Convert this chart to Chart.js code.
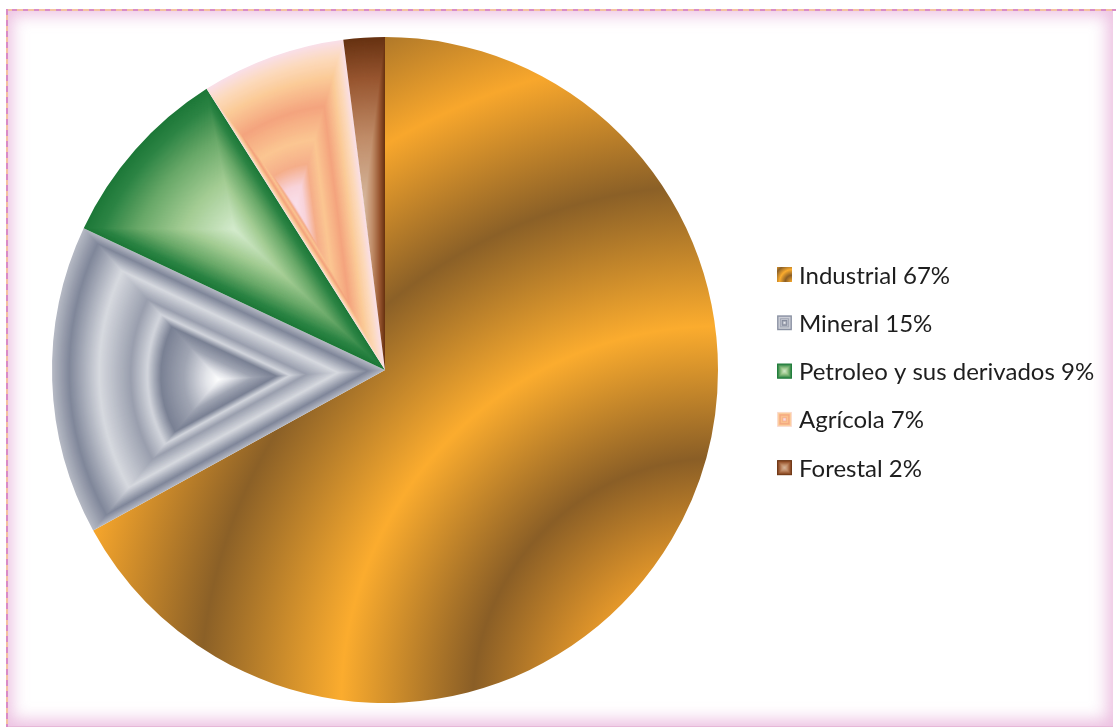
<!DOCTYPE html>
<html>
<head>
<meta charset="utf-8">
<script src="https://cdn.jsdelivr.net/npm/chart.js@4/dist/chart.umd.min.js"></script>
<style>
    html, body { margin: 0; padding: 0; background: #ffffff; }
    #wrap { position: relative; width: 1116px; height: 727px; overflow: hidden; }
    /* marco rosado con borde discontinuo */
    #frame {
        position: absolute; left: 6px; top: 9px; width: 1107px; height: 717px;
        box-shadow: inset 0 0 16px 6px rgba(228, 165, 212, 0.7);
        border-bottom: 1px solid #e6b8d8;
    }
    #dash-top, #dash-left { position: absolute; }
    #dash-top {
        left: 6px; top: 9px; width: 1110px; height: 2px;
        background: repeating-linear-gradient(90deg, #f4c2a0 0 6px, #d98cc6 6px 11px);
    }
    #dash-left {
        left: 6px; top: 9px; width: 2px; height: 718px;
        background: repeating-linear-gradient(180deg, #d98cc6 0 6px, #f4c2a0 6px 11px);
    }
    #chart { position: absolute; left: 0; top: 0; }
</style>
</head>
<body>
<div id="wrap">
    <div id="frame"></div>
    <div id="dash-top"></div>
    <div id="dash-left"></div>
    <canvas id="chart" width="1116" height="727"></canvas>
</div>
<script>
// datos del grafico
const labels = ['Industrial', 'Mineral', 'Petroleo y sus derivados', 'Agrícola', 'Forestal'];
const values = [67, 15, 9, 7, 2];

// degradados (s = 0 centro, s = 1 borde)
const mineralStops = [[0, '#ffffff'], [0.08, '#e2e4e9'], [0.21, '#a0a5b3'], [0.35, '#7a8194'], [0.43, '#d2d5dc'],
    [0.53, '#9a9fae'], [0.72, '#d6d9df'], [0.9, '#80879a'], [1, '#b4b8c3']];
const petroleoStops = [[0, '#d4ebcd'], [0.35, '#a3cc93'], [0.65, '#68a868'], [0.88, '#2c8444'], [1, '#1d7838']];
const agricolaStops = [[0, '#fae0eb'], [0.12, '#f8d3da'], [0.25, '#f5ae8a'], [0.4, '#fbc692'], [0.6, '#f4a47e'],
    [0.78, '#fbcb98'], [0.9, '#fcdabd'], [1, '#f9dfe8']];
const forestalStops = [[0, '#d6b89e'], [0.4, '#c08c68'], [0.75, '#985630'], [1, '#673212']];
const sliceStops = [null, mineralStops, petroleoStops, agricolaStops, forestalStops];

// bandas del sector industrial (radial desde la esquina inferior derecha)
const industrialStops = [[0, '#fbab2d'], [0.12, '#f9a52b'], [0.26, '#8a5e26'], [0.4, '#fbac2e'], [0.55, '#8b6027'],
    [0.69, '#f8a72c'], [0.84, '#8d6227'], [1, '#f0a02c']];

let fills = [];

function hexToRgb(h) {
    return [parseInt(h.slice(1, 3), 16), parseInt(h.slice(3, 5), 16), parseInt(h.slice(5, 7), 16)];
}

function colorAt(stops, s) {
    for (let i = 1; i < stops.length; i++) {
        if (s <= stops[i][0]) {
            const a = stops[i - 1], b = stops[i];
            const t = (s - a[0]) / (b[0] - a[0] || 1);
            const ca = hexToRgb(a[1]), cb = hexToRgb(b[1]);
            const c = ca.map((v, k) => Math.round(v + (cb[k] - v) * t));
            return `rgb(${c[0]},${c[1]},${c[2]})`;
        }
    }
    return stops[stops.length - 1][1];
}

// bounding box de un sector
function wedgeBox(cx, cy, r, a0, a1) {
    const xs = [cx, cx + r * Math.cos(a0), cx + r * Math.cos(a1)];
    const ys = [cy, cy + r * Math.sin(a0), cy + r * Math.sin(a1)];
    for (let k = -4; k <= 8; k++) {
        const a = k * Math.PI / 2;
        if (a > a0 && a < a1) {
            xs.push(cx + r * Math.cos(a));
            ys.push(cy + r * Math.sin(a));
        }
    }
    return { x0: Math.min(...xs), x1: Math.max(...xs), y0: Math.min(...ys), y1: Math.max(...ys) };
}

// relleno tipo "ruta" que sigue la forma del sector
function pathFill(mainCtx, w, h, cx, cy, r, a0, a1, stops) {
    const off = document.createElement('canvas');
    off.width = w;
    off.height = h;
    const c = off.getContext('2d');
    const box = wedgeBox(cx, cy, r, a0, a1);
    const fx = (box.x0 + box.x1) / 2, fy = (box.y0 + box.y1) / 2;
    c.fillStyle = colorAt(stops, 1);
    c.fillRect(0, 0, w, h);
    const n = 160;
    for (let i = n; i >= 1; i--) {
        const s = i / n;
        c.save();
        c.translate(fx, fy);
        c.scale(s, s);
        c.translate(-fx, -fy);
        c.beginPath();
        c.moveTo(cx, cy);
        c.arc(cx, cy, r, a0, a1);
        c.closePath();
        c.fillStyle = colorAt(stops, s);
        c.fill();
        c.restore();
    }
    return mainCtx.createPattern(off, 'no-repeat');
}

function radialBands(ctx, x, y, radius, stops) {
    const g = ctx.createRadialGradient(x, y, 0, x, y, radius);
    stops.forEach(([p, col]) => g.addColorStop(p, col));
    return g;
}

// construir los rellenos cuando se conoce el area del grafico
const fillPlugin = {
    id: 'fills',
    afterLayout(chart) {
        const a = chart.chartArea;
        const cx = (a.left + a.right) / 2, cy = (a.top + a.bottom) / 2;
        const r = Math.min(a.right - a.left, a.bottom - a.top) / 2;
        const total = values.reduce((p, v) => p + v, 0);
        let ang = -Math.PI / 2;
        fills = values.map((v, i) => {
            const a0 = ang, a1 = ang + v / total * Math.PI * 2;
            ang = a1;
            if (i === 0) {
                const bx = cx + r, by = cy + r;
                return radialBands(chart.ctx, bx, by, Math.hypot(2 * r, 2 * r), industrialStops);
            }
            return pathFill(chart.ctx, chart.width, chart.height, cx, cy, r, a0, a1, sliceStops[i]);
        });
    }
};

// leyenda a la derecha
const legendPlugin = {
    id: 'sideLegend',
    afterDraw(chart) {
        const ctx = chart.ctx;
        const x = 777, top = 267, step = 48.3, box = 15;
        ctx.save();
        ctx.font = '24px Lato, "Liberation Sans", sans-serif';
        ctx.textBaseline = 'alphabetic';
        labels.forEach((lab, i) => {
            const y = top + i * step;
            if (i === 0) {
                ctx.fillStyle = radialBands(ctx, x + box, y + box, box * 1.5,
                    [[0, '#fbab2d'], [0.3, '#8a5e26'], [0.55, '#fbac2e'], [0.8, '#8b6027'], [1, '#f8a72c']]);
                ctx.fillRect(x, y, box, box);
            } else {
                const n = 30;
                for (let k = n; k >= 1; k--) {
                    const s = k / n, half = box / 2 * s;
                    ctx.fillStyle = colorAt(sliceStops[i], s);
                    ctx.fillRect(x + box / 2 - half, y + box / 2 - half, half * 2, half * 2);
                }
            }
            ctx.fillStyle = '#1e1e1e';
            ctx.fillText(`${lab} ${values[i]}%`, x + 22, y + 16.5);
        });
        ctx.restore();
    }
};

new Chart(document.getElementById('chart'), {
    type: 'pie',
    data: {
        labels: labels,
        datasets: [{
            data: values,
            backgroundColor: (c) => fills[c.dataIndex] || '#cccccc',
            borderWidth: 0
        }]
    },
    options: {
        responsive: false,
        devicePixelRatio: 1,
        animation: false,
        layout: { padding: { left: 52, top: 37, right: 398, bottom: 24 } },
        plugins: {
            legend: { display: false },
            tooltip: { enabled: false }
        }
    },
    plugins: [fillPlugin, legendPlugin]
});
</script>
</body>
</html>
